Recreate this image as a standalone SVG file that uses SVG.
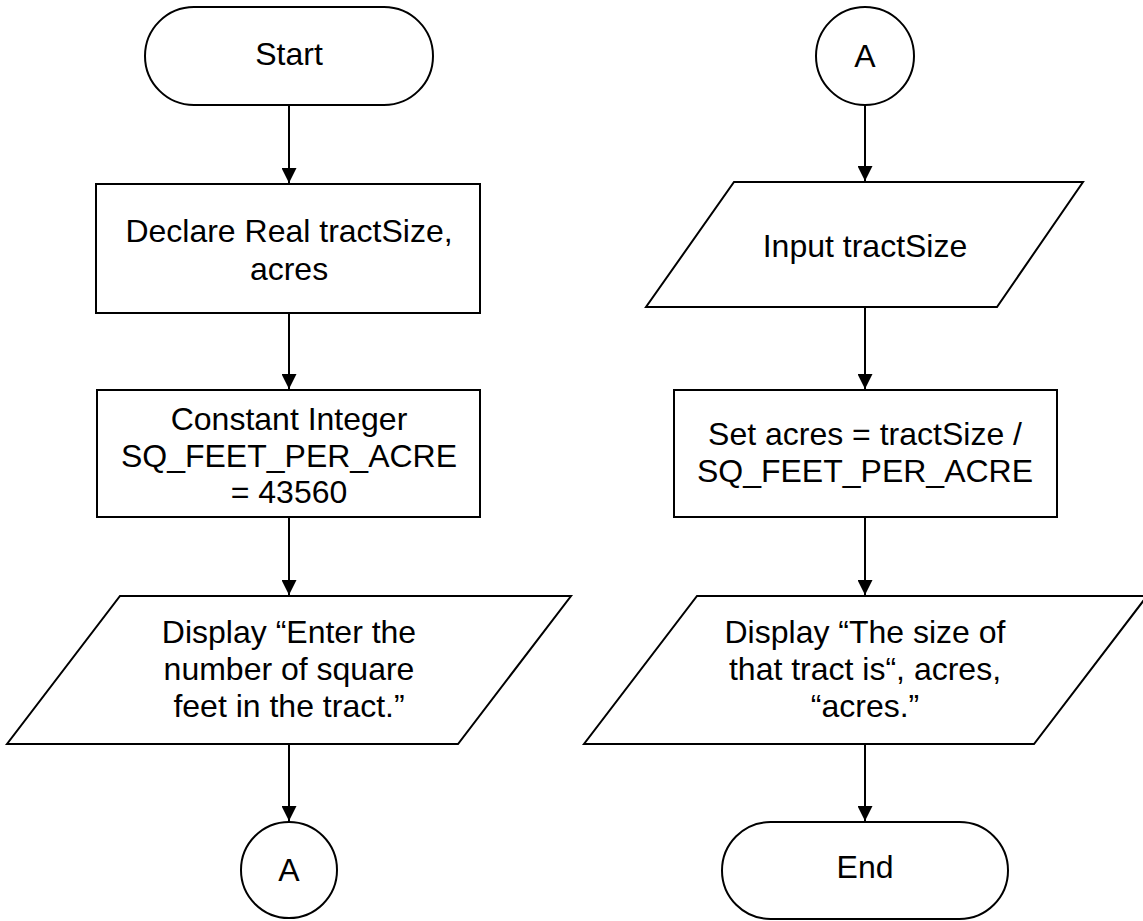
<svg xmlns="http://www.w3.org/2000/svg" width="1143" height="921" viewBox="0 0 1143 921">
<style>
.s{fill:#fff;stroke:#000;stroke-width:2}
.t{font-family:"Liberation Sans",Arial,sans-serif;font-size:32px;fill:#000;text-anchor:middle}
.c{stroke:#000;stroke-width:2;fill:none}
</style>
<defs>
<marker id="ah" viewBox="0 0 15 15" refX="15" refY="7.5" markerWidth="15" markerHeight="15" markerUnits="userSpaceOnUse" orient="auto">
<path d="M0,0 L15,7.5 L0,15 z" fill="#000"/>
</marker>
</defs>
<rect width="1143" height="921" fill="#fff"/>
<g id="connectors">
<line class="c" x1="289" y1="105" x2="289" y2="183" marker-end="url(#ah)"/>
<line class="c" x1="289" y1="313" x2="289" y2="389" marker-end="url(#ah)"/>
<line class="c" x1="289" y1="517" x2="289" y2="595" marker-end="url(#ah)"/>
<line class="c" x1="289" y1="744" x2="289" y2="821" marker-end="url(#ah)"/>
<line class="c" x1="865" y1="105" x2="865" y2="181" marker-end="url(#ah)"/>
<line class="c" x1="865" y1="307" x2="865" y2="389" marker-end="url(#ah)"/>
<line class="c" x1="865" y1="517" x2="865" y2="595" marker-end="url(#ah)"/>
<line class="c" x1="865" y1="744" x2="865" y2="821" marker-end="url(#ah)"/>
</g>
<g id="start">
<rect class="s" x="145" y="7" width="288" height="98" rx="49" ry="49"/>
<text class="t" x="289" y="65">Start</text>
</g>
<g id="declare">
<rect class="s" x="96" y="184" width="384" height="129"/>
<text class="t" x="289" y="242">Declare Real tractSize,</text>
<text class="t" x="289" y="280">acres</text>
</g>
<g id="constant">
<rect class="s" x="97" y="390" width="383" height="127"/>
<text class="t" x="289" y="430">Constant Integer</text>
<text class="t" x="289" y="467">SQ_FEET_PER_ACRE</text>
<text class="t" x="289" y="503">= 43560</text>
</g>
<g id="display1">
<polygon class="s" points="120,596 571,596 458,744 7,744"/>
<text class="t" x="289" y="643">Display “Enter the</text>
<text class="t" x="289" y="680">number of square</text>
<text class="t" x="289" y="717">feet in the tract.”</text>
</g>
<g id="connA1">
<circle class="s" cx="289" cy="870" r="48"/>
<text class="t" x="289" y="881">A</text>
</g>
<g id="connA2">
<circle class="s" cx="865" cy="56" r="49"/>
<text class="t" x="865" y="67">A</text>
</g>
<g id="input">
<polygon class="s" points="734,182 1083,182 997,307 646,307"/>
<text class="t" x="865" y="257">Input tractSize</text>
</g>
<g id="set">
<rect class="s" x="674" y="390" width="383" height="127"/>
<text class="t" x="865" y="445">Set acres = tractSize /</text>
<text class="t" x="865" y="482">SQ_FEET_PER_ACRE</text>
</g>
<g id="display2">
<polygon class="s" points="697,596 1147,596 1034,744 584,744"/>
<text class="t" x="865" y="643">Display “The size of</text>
<text class="t" x="865" y="680">that tract is“, acres,</text>
<text class="t" x="865" y="717">“acres.”</text>
</g>
<g id="end">
<rect class="s" x="722" y="822" width="286" height="97" rx="48.5" ry="48.5"/>
<text class="t" x="865" y="878">End</text>
</g>
</svg>
